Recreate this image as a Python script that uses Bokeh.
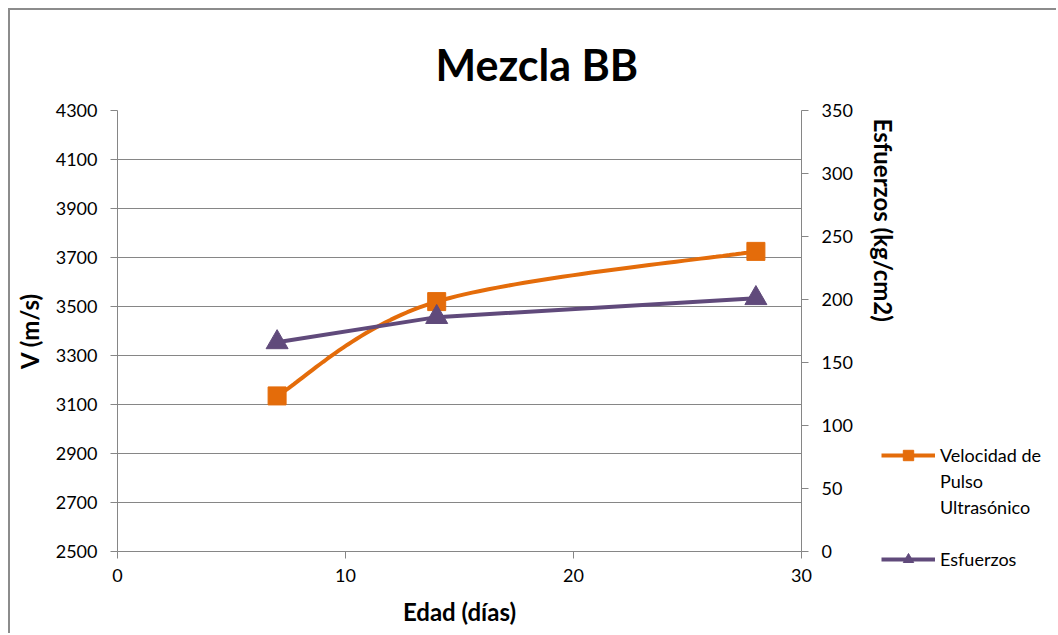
import numpy as np
from bokeh.plotting import figure
from bokeh.layouts import row
from bokeh.models import Range1d, LinearAxis, Legend, LegendItem, FixedTicker, Label
from bokeh.embed import file_html
from bokeh.resources import INLINE

# Ages (days) and measured values
edad = [7, 14, 28]
velocidad = [3135, 3520, 3725]      # m/s, left axis
esfuerzos = [166, 186, 201]         # kg/cm2, right axis

x_ticks = [0, 10, 20, 30]
v_ticks = list(range(2500, 4301, 200))
e_ticks = list(range(0, 351, 50))

# legend text, one entry per line
v_label_lines = ["Velocidad de", "Pulso", "Ultrasónico"]
e_label = "Esfuerzos"

ORANGE = "#E46C0A"
PURPLE = "#604A7B"
GREY = "#868686"
BORDER = "2px solid #8c8c8c"
FONT = "Lato"

H = 625          # canvas height of both panels
SIDE_W = 203     # width of the side panel holding legend and right-axis title


def smooth(xs, ys, n=40):
    """Cubic Bezier smoothing through the points (control points at 1/6 of the neighbour chord)."""
    pts = np.column_stack([xs, ys]).astype(float)
    m = len(pts)
    out = [pts[0]]
    t = np.linspace(0, 1, n)[1:, None]
    for i in range(m - 1):
        p0 = pts[max(i - 1, 0)]
        p1 = pts[i]
        p2 = pts[i + 1]
        p3 = pts[min(i + 2, m - 1)]
        c1 = p1 + (p2 - p0) / 6
        c2 = p2 - (p3 - p1) / 6
        seg = (1 - t) ** 3 * p1 + 3 * (1 - t) ** 2 * t * c1 + 3 * (1 - t) * t ** 2 * c2 + t ** 3 * p2
        out.extend(seg)
    out = np.array(out)
    return out[:, 0], out[:, 1]


# ---------------- main chart ----------------
p = figure(width=845, height=H, margin=(8, 0, 0, 8),
           x_range=Range1d(0, 30), y_range=Range1d(2500, 4300),
           output_backend="svg", toolbar_location=None,
           min_border_left=107, min_border_right=50,
           min_border_top=100, min_border_bottom=84,
           title="Mezcla BB")
p.frame_align = False
p.styles = {"border-left": BORDER, "border-top": BORDER}
p.extra_y_ranges = {"esf": Range1d(0, 350)}

p.title.text_font = FONT
p.title.text_font_size = "43px"
p.title.text_font_style = "bold"
p.title.text_color = "black"
p.title.align = "left"
p.title.offset = 318
p.title.standoff = 41

p.outline_line_color = None
p.background_fill_color = "white"
p.border_fill_color = "white"
p.xgrid.visible = False
p.ygrid.grid_line_color = GREY
p.ygrid.grid_line_width = 1

p.xaxis.ticker = FixedTicker(ticks=x_ticks)
p.yaxis.ticker = FixedTicker(ticks=v_ticks)
p.xaxis.axis_label = "Edad (días)"
p.yaxis.axis_label = "V (m/s)"

right = LinearAxis(y_range_name="esf", ticker=FixedTicker(ticks=e_ticks))
p.add_layout(right, "right")

for ax in [p.xaxis[0], p.yaxis[0], right]:
    ax.axis_line_color = GREY
    ax.axis_line_width = 1
    ax.major_tick_line_color = GREY
    ax.major_tick_in = 0
    ax.major_tick_out = 7
    ax.minor_tick_line_color = None
    ax.major_label_text_font = FONT
    ax.major_label_text_font_size = "18px"
    ax.major_label_text_color = "black"
    ax.major_label_standoff = 13
    ax.axis_label_text_font = FONT
    ax.axis_label_text_font_size = "24px"
    ax.axis_label_text_font_style = "bold"
    ax.axis_label_text_color = "black"

p.xaxis.major_label_standoff = 10
p.xaxis.axis_label_standoff = 12
p.yaxis.axis_label_standoff = 9

sx, sy = smooth(edad, velocidad)
p.line(sx, sy, line_color=ORANGE, line_width=4)
p.scatter(edad, velocidad, marker="square", size=18, fill_color=ORANGE, line_color=ORANGE)

p.line(edad, esfuerzos, y_range_name="esf", line_color=PURPLE, line_width=4)
p.scatter(edad, esfuerzos, y_range_name="esf", marker="triangle", size=22,
          fill_color=PURPLE, line_color=PURPLE)

# ---------------- side panel: right-axis title and legend ----------------
side = figure(width=SIDE_W, height=H, margin=(8, 0, 0, 0),
              x_range=Range1d(0, SIDE_W), y_range=Range1d(0, H),
              output_backend="svg", toolbar_location=None,
              x_axis_location=None, y_axis_location=None,
              min_border=0, min_border_left=0, min_border_right=0,
              min_border_top=0, min_border_bottom=0)
side.frame_align = False
side.styles = {"border-top": BORDER}
side.outline_line_color = None
side.grid.visible = False
side.background_fill_color = "white"
side.border_fill_color = "white"

side.add_layout(Label(x=30, y=H - 108, text="Esfuerzos (kg/cm2)", angle=-np.pi / 2,
                      text_align="left", text_baseline="middle",
                      text_font=FONT, text_font_size="24px", text_font_style="bold",
                      text_color="black"))

# legend keys styled like the chart's series (no visible data of their own)
nan = np.array([np.nan])
k_v_line = side.line(nan, nan, line_color=ORANGE, line_width=4)
k_v_mark = side.scatter(nan, nan, marker="square", fill_color=ORANGE, line_color=ORANGE)
k_e_line = side.line(nan, nan, line_color=PURPLE, line_width=4)
k_e_mark = side.scatter(nan, nan, marker="triangle", fill_color=PURPLE, line_color=PURPLE)
blank = side.line(nan, nan, line_alpha=0)

items = [LegendItem(label=v_label_lines[0], renderers=[k_v_line, k_v_mark])]
items += [LegendItem(label=s, renderers=[blank]) for s in v_label_lines[1:]]
items += [LegendItem(label=" ", renderers=[blank]),
          LegendItem(label=e_label, renderers=[k_e_line, k_e_mark])]

legend = Legend(items=items, location=(28, 63))
legend.padding = 0
legend.margin = 0
legend.spacing = 0
legend.glyph_width = 54
legend.glyph_height = 26
legend.label_height = 26
legend.label_standoff = 5
legend.label_text_font = FONT
legend.label_text_font_size = "18px"
legend.label_text_color = "black"
legend.border_line_color = None
legend.background_fill_alpha = 0
side.add_layout(legend, "center")

layout = row(p, side, spacing=0)
open("out.html", "w").write(file_html(layout, INLINE))
